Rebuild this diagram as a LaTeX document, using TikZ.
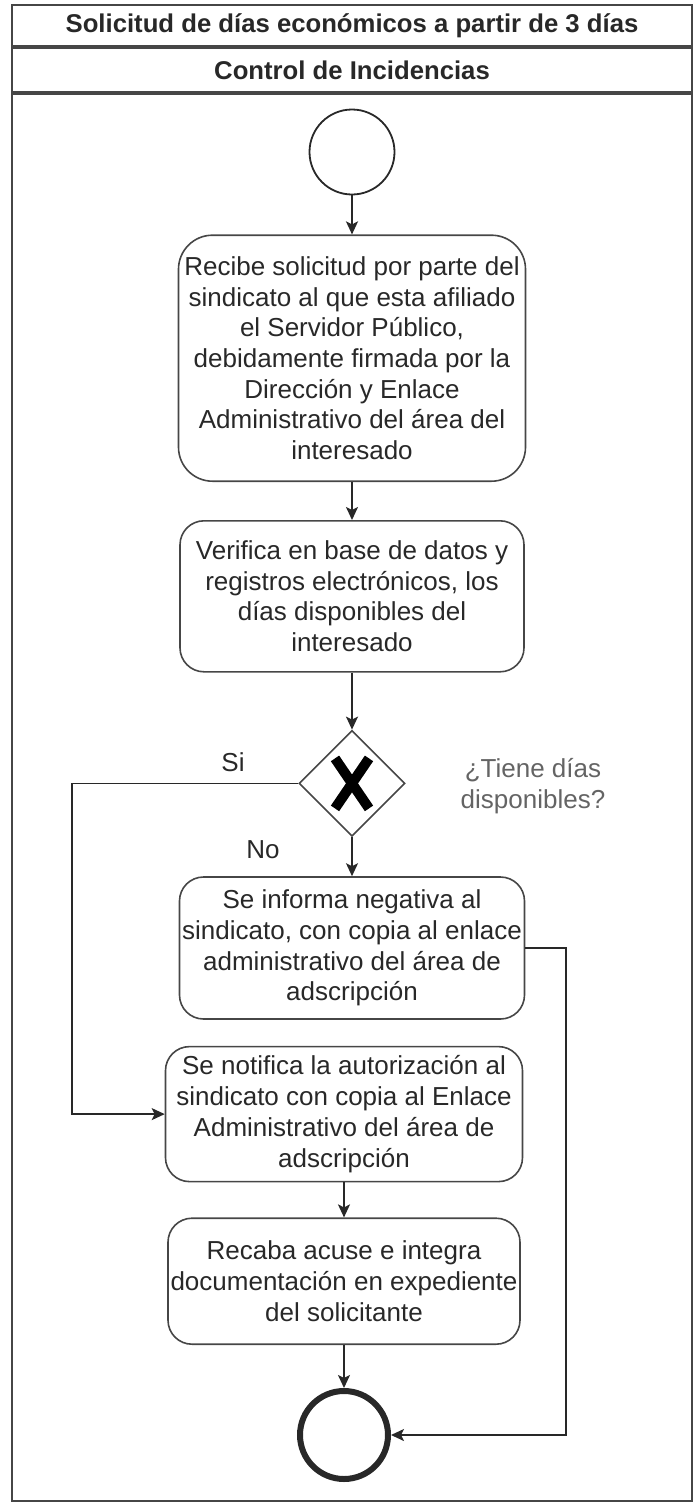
\documentclass[tikz,border=0pt]{standalone}
\usepackage{fontspec}
\setmainfont{Liberation Sans}
\usepackage{tikz}
\usetikzlibrary{positioning, arrows.meta, shapes.geometric}
\definecolor{ink}{RGB}{40,40,40}
\definecolor{stroke}{RGB}{70,70,70}
\definecolor{soft}{RGB}{100,100,100}

\begin{document}
\begin{tikzpicture}[
  x=1pt, y=1pt,
  node distance=40pt,
  lanebox/.style={draw=stroke, line width=2pt, minimum width=680pt, inner sep=2pt,
                  text=ink, font=\fontsize{25.7}{30}\selectfont\bfseries},
  task/.style={draw=stroke, line width=1.6pt, rounded corners=24pt,
               inner sep=0pt, align=center, text=ink,
               font=\fontsize{26}{30.7}\selectfont},
  event/.style={circle, draw=ink, inner sep=0pt},
  gateway/.style={diamond, draw=stroke, line width=1.6pt, inner sep=0pt,
                  minimum width=106pt, minimum height=106pt},
  lbl/.style={text=ink, align=center, font=\fontsize{26}{30.7}\selectfont},
  xmark/.style={line width=10pt, color=black},
  arr/.style={-{Stealth[length=13pt, width=12pt, inset=3pt]}, line width=1.8pt, color=ink},
]
  \useasboundingbox (0,0) rectangle (697,-1502);

  % Pool and lane
  \node[lanebox, minimum height=41pt] (pool) at (352,-25.5) {Solicitud de días económicos a partir de 3 días};
  \node[lanebox, minimum height=44pt, below=0pt of pool] (lane) {Control de Incidencias};
  \node[lanebox, minimum height=1407pt, below=0pt of lane] (lanebody) {};

  % Flow
  \node[event, line width=1.8pt, minimum size=85pt] (start) at (352,-152) {};
  \node[task, minimum width=347pt, minimum height=246pt, rounded corners=34pt,
        below=39pt of start] (recibe)
    {Recibe solicitud por parte del\\sindicato al que esta afiliado\\el Servidor Público,\\debidamente firmada por la\\Dirección y Enlace\\Administrativo del área del\\interesado};
  \node[task, minimum width=344pt, minimum height=151pt, below=38pt of recibe] (verifica)
    {Verifica en base de datos y\\registros electrónicos, los\\días disponibles del\\interesado};
  \node[gateway, below=57pt of verifica] (gate) {};
  \node[task, minimum width=345pt, minimum height=142pt, below=39pt of gate] (negativa)
    {Se informa negativa al\\sindicato, con copia al enlace\\administrativo del área de\\adscripción};
  \node[task, minimum width=357pt, minimum height=135pt, below=26pt of negativa,
        xshift=-8pt] (notifica)
    {Se notifica la autorización al\\sindicato con copia al Enlace\\Administrativo del área de\\adscripción};
  \node[task, minimum width=352pt, minimum height=126pt, below=35pt of notifica] (recaba)
    {Recaba acuse e integra\\documentación en expediente\\del solicitante};
  \node[event, line width=6pt, minimum size=88pt, below=43pt of recaba] (end) {};

  % Gateway mark
  \draw[xmark] ([shift={(-17,25)}]gate.center) -- ([shift={(17,-25)}]gate.center);
  \draw[xmark] ([shift={(17,25)}]gate.center) -- ([shift={(-17,-25)}]gate.center);

  % Labels
  \node[lbl] (si) at (233,-762) {Si};
  \node[lbl] (no) at (263,-850) {No};
  \node[lbl, text=soft] (pregunta) at (533,-786) {¿Tiene días\\disponibles?};

  % Arrows
  \draw[arr] (start) -- (recibe);
  \draw[arr] (recibe) -- (verifica);
  \draw[arr] (verifica) -- (gate);
  \draw[arr] (gate) -- (negativa);
  \draw[arr] (gate.west) -- ++(-226pt,0) |- (notifica.west);
  \draw[arr] (notifica) -- (recaba);
  \draw[arr] (recaba) -- (end);
  \draw[arr] (negativa.east) -- ++(41pt,0) |- (end.east);
\end{tikzpicture}
\end{document}
